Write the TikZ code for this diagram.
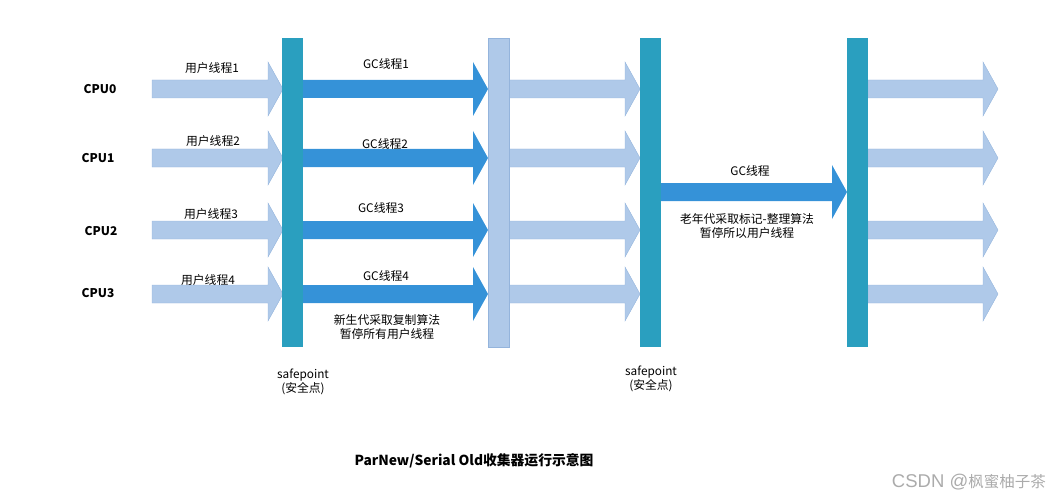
\documentclass[tikz,border=0pt]{standalone}
\usepackage{fontspec}
\setmainfont{Noto Sans CJK SC}
\newfontfamily\wmlatin{Liberation Sans}
\begin{document}
\begin{tikzpicture}[x=1pt,y=-1pt,
  bartealstyle/.style={fill=barteal,draw=none},
  barlightstyle/.style={fill=lightblue,draw=arrowedge,line width=0.4pt},
  userarrow/.style={fill=lightblue,draw=arrowedge,line width=0.4pt},
  gcarrow/.style={fill=gcblue,draw=none},
  lbl/.style={font=\fontsize{11.8}{13}\selectfont,inner sep=0pt},
  cpulbl/.style={font=\bfseries\fontsize{12}{14}\selectfont,inner sep=0pt},
  ]
\definecolor{barteal}{HTML}{2A9FBF}
\definecolor{lightblue}{HTML}{AFC9E9}
\definecolor{arrowedge}{HTML}{94B4DC}
\definecolor{gcblue}{HTML}{3592D8}
\useasboundingbox (0,0) rectangle (1052,500);
% block arrow macro: #1 style, #2 x start, #3 x tip, #4 y centre
\newcommand\blockarr[4]{%
  \path[#1] (#2,#4-9) -- (#3-15,#4-9) -- (#3-15,#4-27) -- (#3,#4) -- (#3-15,#4+27) -- (#3-15,#4+9) -- (#2,#4+9) -- cycle;}
% bars
\node[bartealstyle,minimum width=21pt,minimum height=309pt,inner sep=0pt,anchor=north west] (bar1) at (282,38) {};
\node[barlightstyle,minimum width=21pt,minimum height=309pt,inner sep=0pt,anchor=north west] (bar2) at (488,38) {};
\node[bartealstyle,minimum width=21pt,minimum height=309pt,inner sep=0pt,anchor=north west] (bar3) at (640,38) {};
\node[bartealstyle,minimum width=21pt,minimum height=309pt,inner sep=0pt,anchor=north west] (bar4) at (847,38) {};
% rows
\foreach \y in {89,158,230,294}{
  \blockarr{userarrow}{152}{283}{\y}
  \blockarr{gcarrow}{303}{488}{\y}
  \blockarr{userarrow}{509}{640}{\y}
  \blockarr{userarrow}{868}{998}{\y}
}
\blockarr{gcarrow}{661}{847}{192}
% redraw bars on top
\fill[barteal] (bar1.north west) rectangle (bar1.south east);
\fill[barteal] (bar3.north west) rectangle (bar3.south east);
\fill[barteal] (bar4.north west) rectangle (bar4.south east);
\path[barlightstyle] (bar2.north west) rectangle (bar2.south east);
% CPU labels
\node[cpulbl] (cpu0) at (100,89) {CPU0};
\node[cpulbl] (cpu1) at (98,158) {CPU1};
\node[cpulbl] (cpu2) at (101,231) {CPU2};
\node[cpulbl] (cpu3) at (98,293) {CPU3};
% user thread labels
\node[lbl] (u1) at (212,68) {用户线程1};
\node[lbl] (u2) at (213,141) {用户线程2};
\node[lbl] (u3) at (211,214) {用户线程3};
\node[lbl] (u4) at (208,280) {用户线程4};
% GC labels
\node[lbl] (g1) at (386,64) {GC线程1};
\node[lbl] (g2) at (385,144) {GC线程2};
\node[lbl] (g3) at (381,208) {GC线程3};
\node[lbl] (g4) at (386,276) {GC线程4};
\node[lbl,align=center] (young) at (387,327) {新生代采取复制算法\\[1pt]暂停所有用户线程};
\node[lbl] (g) at (750,171) {GC线程};
\node[lbl,align=center] (old) at (747,226) {老年代采取标记-整理算法\\[1pt]暂停所以用户线程};
% safepoints
\node[lbl,align=center] (sp1) at (303,382) {safepoint\\[1pt](安全点)};
\node[lbl,align=center] (sp2) at (651,379) {safepoint\\[1pt](安全点)};
% title
\node[font=\bfseries\fontsize{13.8}{16}\selectfont,inner sep=0pt] (title) at (474,461) {ParNew/Serial Old收集器运行示意图};
% watermark
\node[font=\fontsize{15.5}{18}\selectfont,text=black!33,inner sep=0pt,anchor=east] (wm) at (1046,482) {{\wmlatin\fontsize{18.5}{20}\selectfont CSDN @}枫蜜柚子茶};
\end{tikzpicture}
\end{document}
